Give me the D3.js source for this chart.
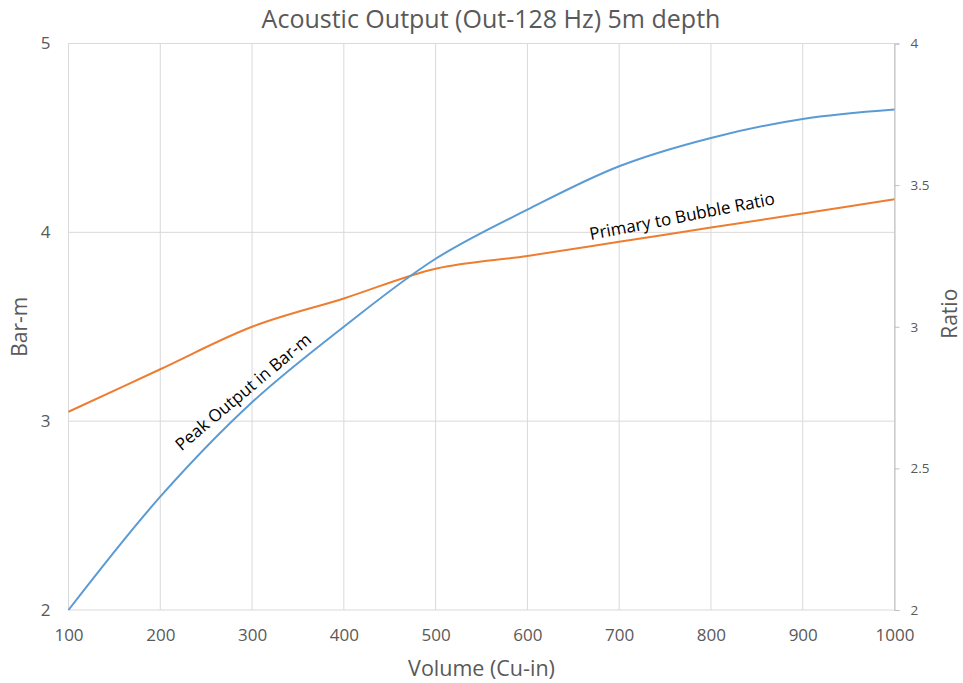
<!DOCTYPE html>
<html>
<head>
<meta charset="utf-8">
<script src="https://cdn.jsdelivr.net/npm/d3@7"></script>
<style>
body{margin:0;background:#fff;}
text{font-family:"Open Sans",sans-serif;}
</style>
</head>
<body>
<div class="box"></div>
<script>
// values
const volume=[100,200,300,400,500,600,700,800,900,1000];
const peakOutput=[2.0,2.6,3.1,3.5,3.86,4.12,4.35,4.5,4.6,4.65];
const bubbleRatio=[2.70,2.85,3.0,3.10,3.205,3.25,3.30,3.35,3.40,3.45];
const xTicks=[100,200,300,400,500,600,700,800,900,1000];
const leftTicks=[2,3,4,5];
const rightTicks=[2,2.5,3,3.5,4];

const W=963,H=683;
const margin={top:43.5,right:68.5,bottom:73,left:68.5};
const graphW=W-margin.left-margin.right;
const graphH=H-margin.top-margin.bottom;

const svg=d3.select('.box').append('svg').attr('width',W).attr('height',H).style('background','white');
const g=svg.append('g').attr('transform',`translate(${margin.left},${margin.top})`);

const x=d3.scaleLinear().domain([100,1000]).range([0,graphW]);
const yL=d3.scaleLinear().domain([2,5]).range([graphH,0]);
const yR=d3.scaleLinear().domain([2,4]).range([graphH,0]);

// grid
g.selectAll('.vg').data(xTicks).enter().append('line')
  .attr('x1',d=>x(d)).attr('x2',d=>x(d)).attr('y1',0).attr('y2',graphH)
  .attr('stroke','#d9d9d9').attr('stroke-width',1);
g.selectAll('.hg').data(leftTicks).enter().append('line')
  .attr('x1',0).attr('x2',graphW).attr('y1',d=>yL(d)).attr('y2',d=>yL(d))
  .attr('stroke','#d9d9d9').attr('stroke-width',1);

// right axis
const axeR=d3.axisRight(yR).tickValues(rightTicks).tickSize(5).tickFormat(d=>d);
const gR=g.append('g').attr('transform',`translate(${graphW},0)`).call(axeR);
gR.select('.domain').attr('stroke','#bfbfbf');
gR.selectAll('.tick line').attr('stroke','#bfbfbf');
gR.selectAll('.tick text').attr('x',16).attr('fill','#595959').style('font-size','13.5px');

// left axis labels
const axeL=d3.axisLeft(yL).tickValues(leftTicks).tickSize(0).tickFormat(d=>d);
const gL=g.append('g').call(axeL);
gL.select('.domain').remove();
gL.selectAll('.tick text').attr('x',-18).attr('fill','#595959').style('font-size','17px');

// bottom axis labels
const axeX=d3.axisBottom(x).tickValues(xTicks).tickSize(0).tickFormat(d=>d);
const gX=g.append('g').attr('transform',`translate(0,${graphH})`).call(axeX);
gX.select('.domain').remove();
gX.selectAll('.tick text').attr('y',19).attr('fill','#595959').style('font-size','17px');

// lines
const lineL=d3.line().x((d,i)=>x(volume[i])).y(d=>yL(d)).curve(d3.curveCatmullRom.alpha(0.5));
const lineR=d3.line().x((d,i)=>x(volume[i])).y(d=>yR(d)).curve(d3.curveCatmullRom.alpha(0.5));
g.append('path').datum(bubbleRatio).attr('d',lineR).attr('fill','none').attr('stroke','#ed7d31').attr('stroke-width',2);
g.append('path').datum(peakOutput).attr('d',lineL).attr('fill','none').attr('stroke','#5b9bd5').attr('stroke-width',2);

// annotations
g.append('text').attr('transform',`translate(${x(223)},${yL(2.84)}) rotate(-40)`)
  .attr('fill','#000').style('font-size','17px').text('Peak Output in Bar-m');
g.append('text').attr('transform',`translate(${x(669)},${yR(3.306)}) rotate(-11)`)
  .attr('fill','#000').style('font-size','17px').text('Primary to Bubble Ratio');

// titles
svg.append('text').attr('x',491).attr('y',28).attr('text-anchor','middle')
  .attr('fill','#595959').style('font-size','25px').text('Acoustic Output (Out-128 Hz) 5m depth');
svg.append('text').attr('x',margin.left+graphW/2).attr('y',676).attr('text-anchor','middle')
  .attr('fill','#595959').style('font-size','21.5px').text('Volume (Cu-in)');
svg.append('text').attr('transform',`translate(27,${margin.top+graphH/2}) rotate(-90)`).attr('text-anchor','middle')
  .attr('fill','#595959').style('font-size','21px').text('Bar-m');
svg.append('text').attr('transform',`translate(957,${margin.top+graphH/2-13}) rotate(-90)`).attr('text-anchor','middle')
  .attr('fill','#595959').style('font-size','21px').text('Ratio');
</script>
</body>
</html>
